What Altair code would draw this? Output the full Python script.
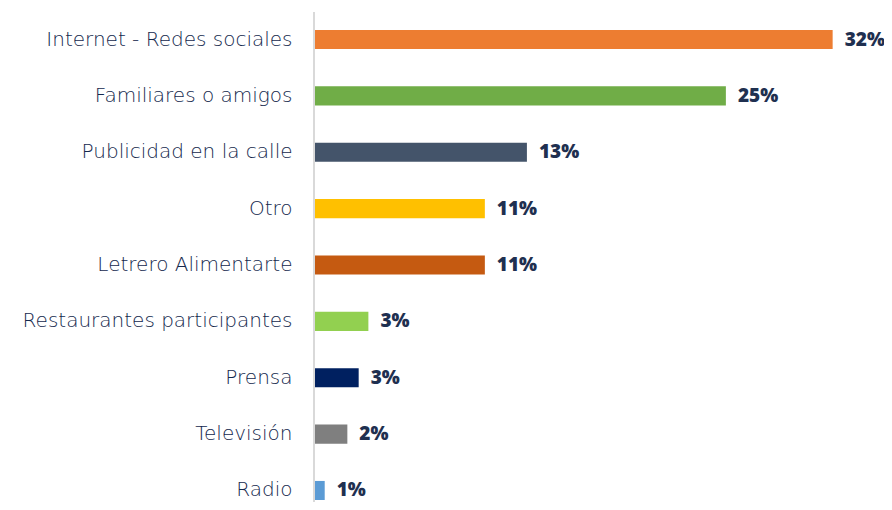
import altair as alt
import pandas as pd

categories = [
    "Internet - Redes sociales",
    "Familiares o amigos",
    "Publicidad en la calle",
    "Otro",
    "Letrero Alimentarte",
    "Restaurantes participantes",
    "Prensa",
    "Televisión",
    "Radio",
]
values = [32.0, 25.4, 13.1, 10.5, 10.5, 3.3, 2.7, 2.0, 0.6]
labels = ["32%", "25%", "13%", "11%", "11%", "3%", "3%", "2%", "1%"]
colors = ["#ED7D31", "#70AD47", "#44546A", "#FFC000", "#C55A11",
          "#92D050", "#002060", "#7F7F7F", "#5B9BD5"]

df = pd.DataFrame({"cat": categories, "val": values, "lab": labels})

W, H = 550, 470

y_enc = alt.Y(
    "cat:N",
    sort=categories,
    scale=alt.Scale(paddingInner=0.662, paddingOuter=0),
    axis=alt.Axis(
        title=None, domain=False, ticks=False, labelPadding=23,
        labelFont="DejaVu Sans", labelFontSize=20, labelFontWeight=300,
        labelColor="#14284D", labelLimit=320,
    ),
)
x_enc = alt.X("val:Q", scale=alt.Scale(domain=[0, 34]), axis=None)

bars = alt.Chart(df).mark_bar(cornerRadius=0).encode(
    y=y_enc,
    x=x_enc,
    color=alt.Color("cat:N", scale=alt.Scale(domain=categories, range=colors), legend=None),
)

text = alt.Chart(df).mark_text(
    align="left", baseline="middle", dx=12,
    font="Open Sans", fontSize=19, fontWeight=800, color="#1F3050",
).encode(y=y_enc, x=x_enc, text="lab:N")

rule = alt.Chart(alt.Data(values=[{}])).mark_rule(color="#D9D9D9", strokeWidth=2).encode(
    x=alt.value(-1), y=alt.value(-18), y2=alt.value(H + 20)
)

chart = alt.layer(rule, bars, text).properties(
    width=W, height=H,
    autosize=alt.AutoSizeParams(type="none"),
    padding={"left": 307, "top": 22, "right": 19, "bottom": 2},
).configure_view(stroke=None)

chart.save("out.html", embed_options={"renderer": "svg", "actions": False})
